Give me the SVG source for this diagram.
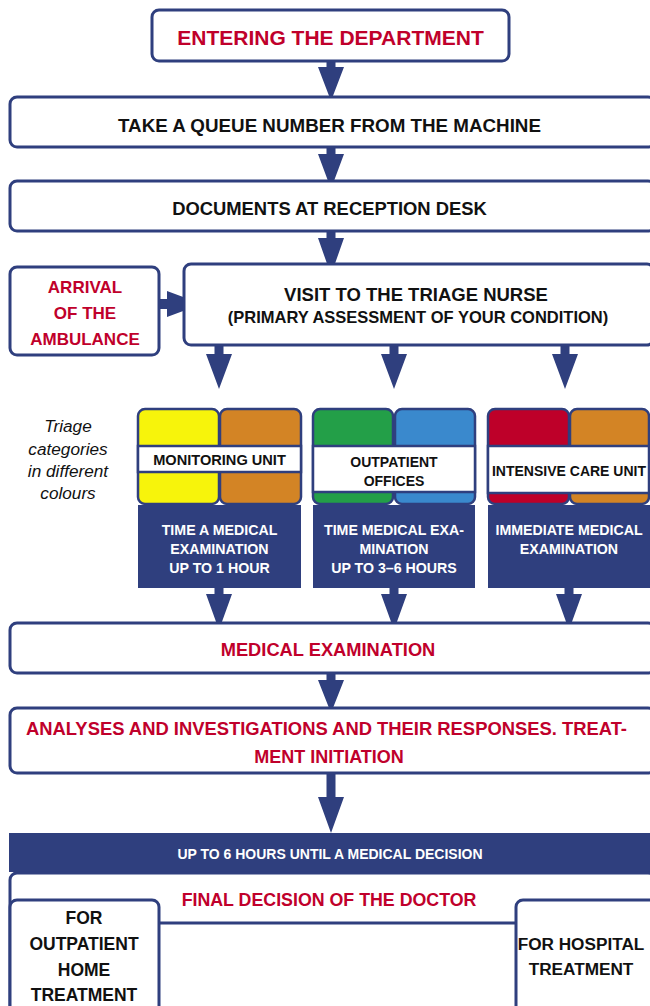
<svg xmlns="http://www.w3.org/2000/svg" width="650" height="1006" viewBox="0 0 650 1006">
<style>
.box{fill:#fff;stroke:#2f3f7e;stroke-width:3}
.cell{stroke:#2f3f7e;stroke-width:2.5}
.band{fill:#fff;stroke:#2f3f7e;stroke-width:2.5}
.navy{fill:#2f3f7e}
.arrow{fill:#2f3f7e}
text{font-family:"Liberation Sans",Arial,sans-serif;font-weight:bold;text-anchor:middle}
.red{fill:#c0002b}
.blk{fill:#111}
.wht{fill:#fff}
.it{font-weight:normal;font-style:italic;fill:#111}
</style>
<g id="connectors">
<polygon class="arrow" points="326.5,61 335.5,61 335.5,67 344,67 331,101 318,67 326.5,67"/>
<polygon class="arrow" points="326.5,147 335.5,147 335.5,154 344,154 331,189 318,154 326.5,154"/>
<polygon class="arrow" points="326.5,231 335.5,231 335.5,238 344,238 331,275 318,238 326.5,238"/>
<polygon class="arrow" points="159,299 167,299 167,291 202,304 167,317 167,309 159,309"/>
<polygon class="arrow" points="214.5,345 223.5,345 223.5,354 232,354 219,389 206,354 214.5,354"/>
<polygon class="arrow" points="389.5,345 398.5,345 398.5,354 407,354 394,389 381,354 389.5,354"/>
<polygon class="arrow" points="560.5,345 569.5,345 569.5,354 578,354 565,389 552,354 560.5,354"/>
<polygon class="arrow" points="214.5,588 223.5,588 223.5,594 232,594 219,630 206,594 214.5,594"/>
<polygon class="arrow" points="389.5,588 398.5,588 398.5,594 407,594 394,630 381,594 389.5,594"/>
<polygon class="arrow" points="564.5,588 573.5,588 573.5,594 582,594 569,630 556,594 564.5,594"/>
<polygon class="arrow" points="326.5,673 335.5,673 335.5,680 344,680 331,713 318,680 326.5,680"/>
<polygon class="arrow" points="326.5,773 335.5,773 335.5,797 344,797 331,833 318,797 326.5,797"/>
</g>
<g id="entering">
<rect class="box" x="152" y="10" width="357" height="51" rx="7"/>
<text class="red" x="330.5" y="45" font-size="21">ENTERING THE DEPARTMENT</text>
</g>
<g id="queue">
<rect class="box" x="10" y="97" width="645" height="50" rx="7"/>
<text class="blk" x="329.5" y="132" font-size="18.8">TAKE A QUEUE NUMBER FROM THE MACHINE</text>
</g>
<g id="documents">
<rect class="box" x="10" y="181" width="645" height="50" rx="7"/>
<text class="blk" x="329.5" y="215" font-size="18.4">DOCUMENTS AT RECEPTION DESK</text>
</g>
<g id="triage-nurse">
<rect class="box" x="184" y="264" width="470" height="81" rx="7"/>
<text class="blk" x="416" y="301" font-size="18.5">VISIT TO THE TRIAGE NURSE</text>
<text class="blk" x="418" y="323" font-size="16.5">(PRIMARY ASSESSMENT OF YOUR CONDITION)</text>
</g>
<g id="ambulance">
<rect class="box" x="10" y="267" width="149" height="88" rx="7"/>
<text class="red" x="85" y="293" font-size="17">ARRIVAL</text>
<text class="red" x="85" y="319" font-size="17">OF THE</text>
<text class="red" x="85" y="345" font-size="17">AMBULANCE</text>
</g>
<g id="triage-label">
<text class="it" x="68" y="432" font-size="17.2">Triage</text>
<text class="it" x="68" y="455" font-size="17.2">categories</text>
<text class="it" x="68" y="477" font-size="17.2">in different</text>
<text class="it" x="68" y="499" font-size="17.2">colours</text>
</g>
<g id="monitoring-unit">
<rect class="cell" x="138" y="409" width="81" height="95" rx="7" fill="#f7f40b"/>
<rect class="cell" x="220" y="409" width="81" height="95" rx="7" fill="#d38425"/>
<rect class="band" x="138" y="446" width="163" height="26"/>
<text class="blk" x="219.5" y="465" font-size="14.6">MONITORING UNIT</text>
<rect class="navy" x="138" y="505" width="163" height="83"/>
<text class="wht" x="219.5" y="535" font-size="14.2">TIME A MEDICAL</text>
<text class="wht" x="219.5" y="554" font-size="14.2">EXAMINATION</text>
<text class="wht" x="219.5" y="573" font-size="14.2">UP TO 1 HOUR</text>
</g>
<g id="outpatient-offices">
<rect class="cell" x="313" y="409" width="80" height="95" rx="7" fill="#239f48"/>
<rect class="cell" x="395" y="409" width="80" height="95" rx="7" fill="#3a89cd"/>
<rect class="band" x="313" y="446" width="162" height="46"/>
<text class="blk" x="394" y="467" font-size="14">OUTPATIENT</text>
<text class="blk" x="394" y="486" font-size="14">OFFICES</text>
<rect class="navy" x="313" y="505" width="162" height="83"/>
<text class="wht" x="394" y="535" font-size="14.2">TIME MEDICAL EXA-</text>
<text class="wht" x="394" y="554" font-size="14.2">MINATION</text>
<text class="wht" x="394" y="573" font-size="14.2">UP TO 3–6 HOURS</text>
</g>
<g id="intensive-care">
<rect class="cell" x="488" y="409" width="81" height="95" rx="7" fill="#be0029"/>
<rect class="cell" x="570" y="409" width="79" height="95" rx="7" fill="#d38425"/>
<rect class="band" x="488" y="446" width="161" height="47"/>
<text class="blk" x="569" y="476" font-size="14">INTENSIVE CARE UNIT</text>
<rect class="navy" x="488" y="505" width="162" height="83"/>
<text class="wht" x="569" y="535" font-size="14.2">IMMEDIATE MEDICAL</text>
<text class="wht" x="569" y="554" font-size="14.2">EXAMINATION</text>
</g>
<g id="medical-examination">
<rect class="box" x="10" y="623" width="645" height="50" rx="7"/>
<text class="red" x="328" y="656" font-size="18.3">MEDICAL EXAMINATION</text>
</g>
<g id="analyses">
<rect class="box" x="10" y="708" width="645" height="65" rx="7"/>
<text class="red" x="326.5" y="735" font-size="18" textLength="601" lengthAdjust="spacingAndGlyphs">ANALYSES AND INVESTIGATIONS AND THEIR RESPONSES. TREAT-</text>
<text class="red" x="329" y="763" font-size="18">MENT INITIATION</text>
</g>
<g id="six-hours">
<rect class="navy" x="9" y="833" width="645" height="39"/>
<text class="wht" x="330" y="859" font-size="14">UP TO 6 HOURS UNTIL A MEDICAL DECISION</text>
</g>
<g id="final-decision">
<rect class="box" x="10" y="873" width="645" height="160" rx="7"/>
<line x1="159" y1="923" x2="516" y2="923" stroke="#2f3f7e" stroke-width="3"/>
<text class="red" x="329" y="906" font-size="17.8">FINAL DECISION OF THE DOCTOR</text>
</g>
<g id="outpatient-home">
<rect class="box" x="10" y="900" width="149" height="130" rx="7"/>
<text class="blk" x="84" y="924" font-size="17.5">FOR</text>
<text class="blk" x="84" y="950" font-size="17.5">OUTPATIENT</text>
<text class="blk" x="84" y="976" font-size="17.5">HOME</text>
<text class="blk" x="84" y="1001" font-size="17.5">TREATMENT</text>
</g>
<g id="hospital">
<rect class="box" x="516" y="900" width="140" height="130" rx="7"/>
<text class="blk" x="581" y="950" font-size="17.2">FOR HOSPITAL</text>
<text class="blk" x="581" y="975" font-size="17.2">TREATMENT</text>
</g>
</svg>
